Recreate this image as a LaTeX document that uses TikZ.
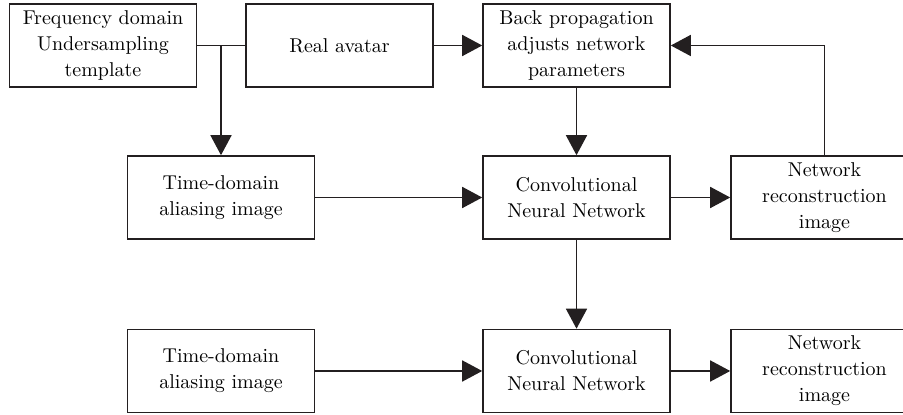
\documentclass[tikz,border=0pt]{standalone}
\usepackage{tikz}
\usetikzlibrary{arrows.meta}

\definecolor{lineclr}{HTML}{231F20}

\tikzset{
    Box/.style={draw=lineclr, line width=0.8pt, minimum width=93.5pt,
        minimum height=41.5pt, inner sep=2pt, align=center,
        font=\fontsize{10}{13}\selectfont},
    Link/.style={draw=lineclr, line width=0.8pt},
    Flow/.style={Link, -{Triangle[length=10pt,width=10.5pt]}}
}

\begin{document}
\begin{tikzpicture}[x=0.5pt,y=-0.5pt]
            \useasboundingbox (0,0) rectangle (903,415);

            % top row
            \node[Box] (freq) at (103,45.5){Frequency domain\\Undersampling\\template};
            \node[Box] (avatar) at (339.5,45.5){Real avatar};
            \node[Box] (bp) at (576.5,45.5){Back propagation\\adjusts network\\parameters};

            % training row
            \node[Box] (td1) at (221,197.5){Time-domain\\aliasing image};
            \node[Box] (cnn1) at (576.5,197.5){Convolutional\\Neural Network};
            \node[Box] (rec1) at (824.5,197.5){Network\\reconstruction\\image};

            % test row
            \node[Box] (td2) at (221,371){Time-domain\\aliasing image};
            \node[Box] (cnn2) at (576.5,371){Convolutional\\Neural Network};
            \node[Box] (rec2) at (824.5,371){Network\\reconstruction\\image};

            \coordinate (split) at (td1.north |- freq.east);
            \draw[Link] (freq.east) -- (avatar.west);
            \draw[Flow] (split) -- (td1.north);
            \draw[Flow] (avatar) -- (bp);
            \draw[Flow] (bp) -- (cnn1);
            \draw[Flow] (td1) -- (cnn1);
            \draw[Flow] (cnn1) -- (rec1);
            \draw[Flow] (rec1.north) |- (bp.east);

            \draw[Flow] (cnn1) -- (cnn2);
            \draw[Flow] (td2) -- (cnn2);
            \draw[Flow] (cnn2) -- (rec2);
\end{tikzpicture}
\end{document}
